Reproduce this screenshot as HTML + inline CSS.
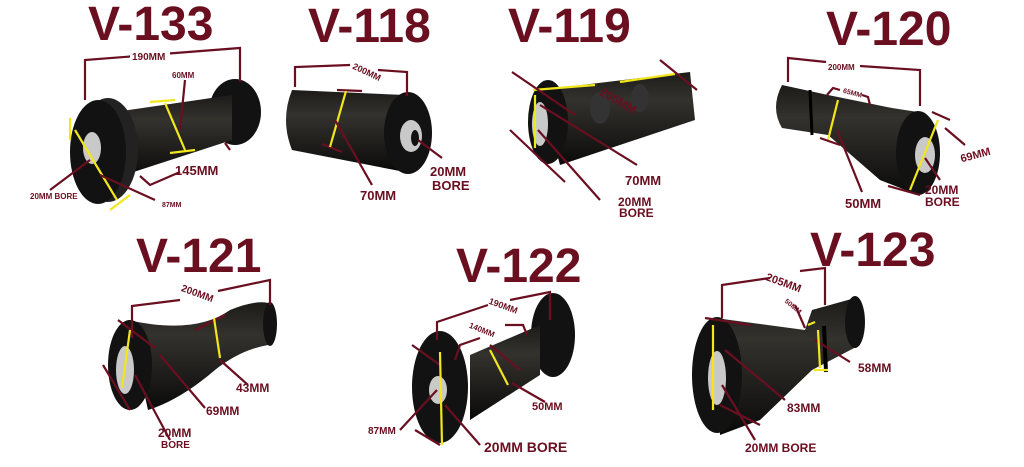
<!DOCTYPE html>
<html><head><meta charset="utf-8"><style>
html,body{margin:0;padding:0;background:#fff;}
svg{display:block;}
text{font-family:"Liberation Sans",Arial,sans-serif;font-weight:bold;fill:#6a0f20;}
.t{font-size:48px;}
.dl{stroke:#6a0f20;stroke-width:2.2;fill:none;}
.y{stroke:#f2e61c;stroke-width:2.2;fill:none;}
.b{fill:#121212;}
.b2{fill:#222;}
.g{fill:#c9c9c9;}
</style></head><body>
<svg width="1024" height="467" viewBox="0 0 1024 467" xmlns="http://www.w3.org/2000/svg">
<defs>
<linearGradient id="cy" x1="0" y1="0" x2="0" y2="1"><stop offset="0" stop-color="#1c1b19"/><stop offset="0.3" stop-color="#34322d"/><stop offset="1" stop-color="#0a0a0a"/></linearGradient>
</defs>
<!-- titles -->
<text class="t" x="88" y="40">V-133</text>
<text class="t" x="308" y="42">V-118</text>
<text class="t" x="508" y="42">V-119</text>
<text class="t" x="826" y="45">V-120</text>
<text class="t" x="136" y="272">V-121</text>
<text class="t" x="456" y="282">V-122</text>
<text class="t" x="810" y="266">V-123</text>

<!-- V-133 -->
<ellipse class="b" cx="235" cy="112" rx="26" ry="33"/>
<path d="M115,112 L232,95 L232,140 L115,178 Z" fill="url(#cy)"/>
<ellipse class="b2" cx="108" cy="150" rx="30" ry="52"/>
<ellipse class="b" cx="98" cy="152" rx="28" ry="52"/>
<ellipse class="g" cx="92" cy="148" rx="9" ry="16"/>
<path class="dl" d="M85,100 L85,60 L240,48 L240,82"/>
<rect x="130" y="50" width="40" height="12" fill="#fff"/>
<text x="132" y="60" font-size="10">190MM</text>
<text x="172" y="78" font-size="8">60MM</text>
<path class="dl" d="M185,80 L180,130"/>
<path class="y" d="M150,102 L175,100 M165,103 L185,150 M170,153 L195,150"/>
<path class="y" d="M70,118 L70,140 M75,130 L117,200 M110,210 L130,195"/>
<path class="dl" d="M140,176 L150,185 L180,172 M225,143 L230,150"/>
<text x="175" y="175" font-size="13">145MM</text>
<path class="dl" d="M50,190 L90,160 M100,175 L155,200"/>
<text x="30" y="199" font-size="8">20MM BORE</text>
<text x="162" y="207" font-size="7">87MM</text>

<!-- V-118 -->
<path d="M292,90 L405,95 L405,172 L292,150 Q280,120 292,90 Z" fill="url(#cy)"/>
<ellipse class="b" cx="408" cy="133" rx="24" ry="41"/>
<ellipse class="g" cx="411" cy="136" rx="11" ry="16"/>
<ellipse class="b" cx="415" cy="138" rx="4" ry="8"/>
<path class="dl" d="M295,87 L295,67 L350,65 M378,70 L407,72 L407,96"/>
<text x="352" y="72" font-size="9" transform="rotate(25 360 70)">200MM</text>
<path class="dl" d="M337,90 L362,91 M322,144 L342,152"/>
<path class="y" d="M346,91 L330,147"/>
<path class="dl" d="M335,120 L372,185 M418,140 L442,158"/>
<text x="360" y="200" font-size="13">70MM</text>
<text x="430" y="176" font-size="13">20MM</text>
<text x="432" y="190" font-size="13">BORE</text>

<!-- V-119 -->
<path d="M540,90 L690,72 L695,120 L560,165 Z" fill="url(#cy)"/>
<ellipse cx="600" cy="108" rx="10" ry="16" fill="#333"/>
<ellipse cx="640" cy="98" rx="9" ry="14" fill="#333"/>
<ellipse class="b" cx="548" cy="122" rx="20" ry="42"/>
<ellipse class="g" cx="540" cy="124" rx="8" ry="22"/>
<path class="y" d="M533,90 L595,85 M620,82 L675,74 M535,95 L535,148"/>
<path class="dl" d="M512,72 L575,115 M510,130 L565,182 M660,60 L697,90"/>
<text x="600" y="100" font-size="12" transform="rotate(30 610 95)">200MM</text>
<path class="dl" d="M540,105 L637,165 M538,130 L600,200"/>
<text x="625" y="185" font-size="13">70MM</text>
<text x="618" y="206" font-size="12">20MM</text>
<text x="619" y="217" font-size="12">BORE</text>

<!-- V-120 -->
<path d="M782,85 L828,95 L892,108 L918,112 L918,195 L880,180 L828,135 L782,128 Q770,108 782,85 Z" fill="url(#cy)"/>
<path d="M810,90 L812,135" stroke="#000" stroke-width="3"/>
<ellipse class="b" cx="918" cy="153" rx="22" ry="42"/>
<ellipse class="g" cx="925" cy="155" rx="10" ry="18"/>
<path class="y" d="M938,120 L910,190 M838,100 L828,140"/>
<path class="dl" d="M788,82 L788,58 L826,62 M860,66 L920,70 L920,106"/>
<text x="828" y="70" font-size="8">200MM</text>
<path class="dl" d="M827,95 L833,88 L840,90 M862,95 L868,97 L870,105"/>
<text x="843" y="94" font-size="7" transform="rotate(15 848 92)">65MM</text>
<path class="dl" d="M932,112 L950,120 M888,186 L920,195 M820,138 L840,145 M837,130 L862,192 M945,128 L965,145 M925,158 L940,180"/>
<text x="960" y="160" font-size="11" transform="rotate(-15 970 155)">69MM</text>
<text x="845" y="208" font-size="13">50MM</text>
<text x="925" y="194" font-size="12">20MM</text>
<text x="925" y="206" font-size="12">BORE</text>

<!-- V-121 -->
<path d="M128,320 Q195,335 230,310 Q255,300 268,303 L268,345 Q240,350 215,370 Q180,400 148,410 Z" fill="url(#cy)"/>
<ellipse class="b" cx="270" cy="324" rx="7" ry="22"/>
<ellipse class="b" cx="130" cy="365" rx="22" ry="45"/>
<ellipse class="g" cx="125" cy="370" rx="9" ry="24"/>
<path class="dl" d="M132,338 L132,306 L180,300 M218,291 L270,280 L270,305"/>
<text x="180" y="296" font-size="10" transform="rotate(20 195 295)">200MM</text>
<path class="dl" d="M118,320 L155,348 M195,330 L225,315 M103,365 L130,410"/>
<path class="y" d="M130,330 L122,388 M214,318 L220,358"/>
<path class="dl" d="M135,375 L170,440 M160,355 L205,408 M220,360 L248,385"/>
<text x="236" y="392" font-size="12">43MM</text>
<text x="206" y="415" font-size="12">69MM</text>
<text x="158" y="437" font-size="12">20MM</text>
<text x="161" y="448" font-size="10">BORE</text>

<!-- V-122 -->
<ellipse class="b" cx="553" cy="335" rx="22" ry="42"/>
<path d="M470,355 L540,325 L540,375 L470,420 Z" fill="url(#cy)"/>
<ellipse class="b" cx="440" cy="387" rx="28" ry="56"/>
<ellipse class="g" cx="438" cy="390" rx="9" ry="14"/>
<path class="dl" d="M437,340 L437,322 L488,305 M510,300 L550,292 L550,320"/>
<text x="488" y="306" font-size="9" transform="rotate(20 495 305)">190MM</text>
<path class="dl" d="M455,360 L460,345 L480,338 M505,325 L523,325 L527,335"/>
<text x="468" y="330" font-size="8" transform="rotate(22 475 330)">140MM</text>
<path class="dl" d="M412,345 L440,365 M415,430 L440,445 M490,345 L520,370 M512,383 L545,402"/>
<path class="y" d="M440,352 L442,445 M490,350 L508,385"/>
<path class="dl" d="M400,430 L437,390 M445,405 L480,445"/>
<text x="368" y="434" font-size="10">87MM</text>
<text x="532" y="410" font-size="11">50MM</text>
<text x="484" y="452" font-size="14">20MM BORE</text>

<!-- V-123 -->
<path d="M715,318 L805,330 L812,310 L855,298 L860,345 L812,370 L760,420 L720,435 Z" fill="url(#cy)"/>
<path d="M824,326 L826,372" stroke="#000" stroke-width="4"/>
<ellipse class="b" cx="855" cy="322" rx="10" ry="26"/>
<ellipse class="b" cx="717" cy="375" rx="25" ry="58"/>
<ellipse class="g" cx="717" cy="378" rx="9" ry="27"/>
<path class="dl" d="M722,318 L722,285 L770,278 M800,271 L825,268 L825,305"/>
<text x="766" y="285" font-size="11" transform="rotate(20 780 280)">205MM</text>
<path class="dl" d="M705,318 L750,325 M720,405 L760,425 M795,305 L805,328 M815,340 L850,362"/>
<text x="779" y="308" font-size="7" transform="rotate(40 790 312)">50MM</text>
<path class="y" d="M713,325 L713,410 M808,325 L815,322 M818,330 L820,368 M814,370 L828,370"/>
<path class="dl" d="M725,350 L785,400 M722,385 L755,440"/>
<text x="858" y="372" font-size="12">58MM</text>
<text x="787" y="412" font-size="12">83MM</text>
<text x="745" y="452" font-size="12">20MM BORE</text>
</svg>
</body></html>
